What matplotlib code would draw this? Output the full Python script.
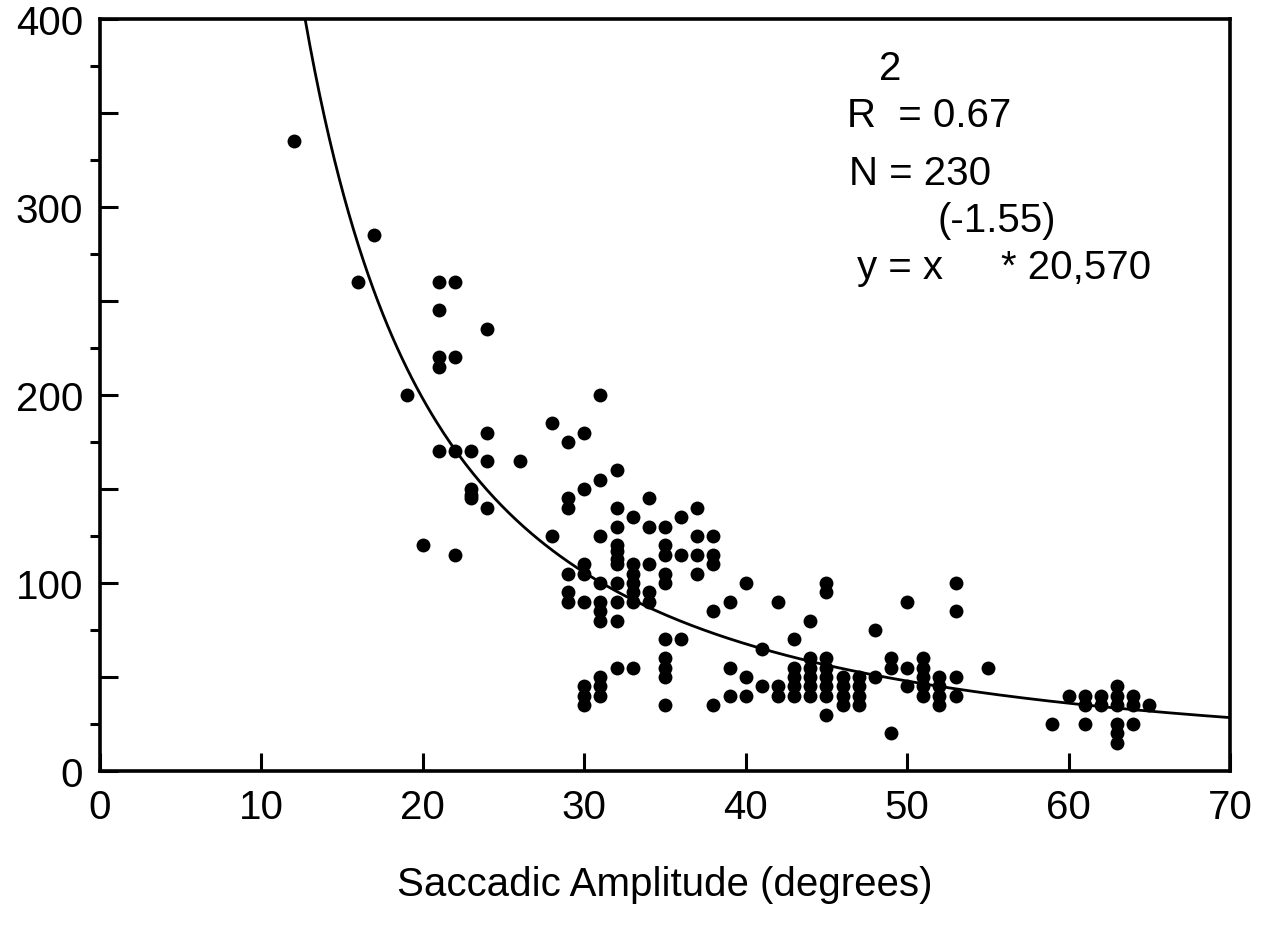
import numpy as np
import matplotlib
matplotlib.use("Agg")
import matplotlib.pyplot as plt
from matplotlib.ticker import MultipleLocator

plt.rcParams['font.family'] = ['Liberation Sans', 'DejaVu Sans']

# saccadic amplitude (degrees) -> latency values
columns = {
    12: [335],
    16: [260],
    17: [285],
    19: [200],
    20: [120],
    21: [260, 245, 220, 215, 170],
    22: [260, 220, 170, 115],
    23: [170, 150, 147, 145],
    24: [235, 180, 165, 140],
    26: [165],
    28: [185, 125],
    29: [175, 145, 140, 105, 95, 90],
    30: [180, 150, 110, 105, 90, 45, 40, 35],
    31: [200, 155, 125, 100, 90, 85, 80, 50, 45, 40],
    32: [160, 140, 130, 120, 117, 113, 110, 100, 90, 80, 55],
    33: [135, 110, 105, 100, 95, 90, 55],
    34: [145, 130, 110, 95, 90],
    35: [130, 120, 115, 105, 100, 70, 60, 55, 50, 35],
    36: [135, 115, 70],
    37: [140, 125, 115, 105],
    38: [125, 115, 110, 85, 35],
    39: [90, 55, 40],
    40: [100, 50, 40],
    41: [65, 45],
    42: [90, 45, 40],
    43: [70, 55, 50, 45, 40],
    44: [80, 60, 55, 50, 45, 40],
    45: [100, 95, 60, 55, 50, 45, 40, 30],
    46: [50, 45, 40, 35],
    47: [50, 45, 40, 35],
    48: [75, 50],
    49: [60, 55, 20],
    50: [90, 55, 45],
    51: [60, 55, 50, 45, 40],
    52: [50, 45, 40, 35],
    53: [100, 85, 50, 40],
    55: [55],
    59: [25],
    60: [40],
    61: [40, 35, 25],
    62: [40, 35],
    63: [45, 40, 35, 25, 20, 15],
    64: [40, 35, 25],
    65: [35],
}
amplitude = [a for a, ys in columns.items() for _ in ys]
latency = [v for ys in columns.values() for v in ys]

# power fit y = x^b * a
fit_a = 20570
fit_b = -1.55

fig = plt.figure(figsize=(12.62, 9.28), dpi=100)
ax = fig.add_axes([100/1262, 156/928, 1130/1262, 752/928])

ax.plot(amplitude, latency, 'o', color='black', markersize=10, markeredgewidth=0)

xf = np.linspace(10, 70, 400)
ax.plot(xf, fit_a * xf**fit_b, color='black', linewidth=2)

ax.set_xlim(0, 70)
ax.set_ylim(0, 400)
ax.xaxis.set_major_locator(MultipleLocator(10))
ax.yaxis.set_major_locator(MultipleLocator(50))
ax.yaxis.set_minor_locator(MultipleLocator(25))
ax.set_yticklabels(['%d' % t if t % 100 == 0 else '' for t in ax.get_yticks()])
ax.tick_params(axis='both', direction='in', labelsize=29, width=2.2)
ax.tick_params(axis='y', which='major', length=13, pad=12)
ax.tick_params(axis='y', which='minor', length=7, width=2.2)
ax.tick_params(axis='x', which='major', length=13, pad=12)
for s in ax.spines.values():
    s.set_linewidth(2.6)

ax.set_xlabel('Saccadic Amplitude (degrees)', fontsize=29, labelpad=28)

ax.text(48.95, 374, '2', fontsize=29, ha='center', va='center')
ax.text(46.3, 349, 'R  = 0.67', fontsize=29, ha='left', va='center')
ax.text(46.4, 318, 'N = 230', fontsize=29, ha='left', va='center')
ax.text(51.9, 293, '(-1.55)', fontsize=29, ha='left', va='center')
ax.text(46.9, 268, 'y = x', fontsize=29, ha='left', va='center')
ax.text(55.8, 268, '* 20,570', fontsize=29, ha='left', va='center')

fig.savefig('out.png', dpi=100)
